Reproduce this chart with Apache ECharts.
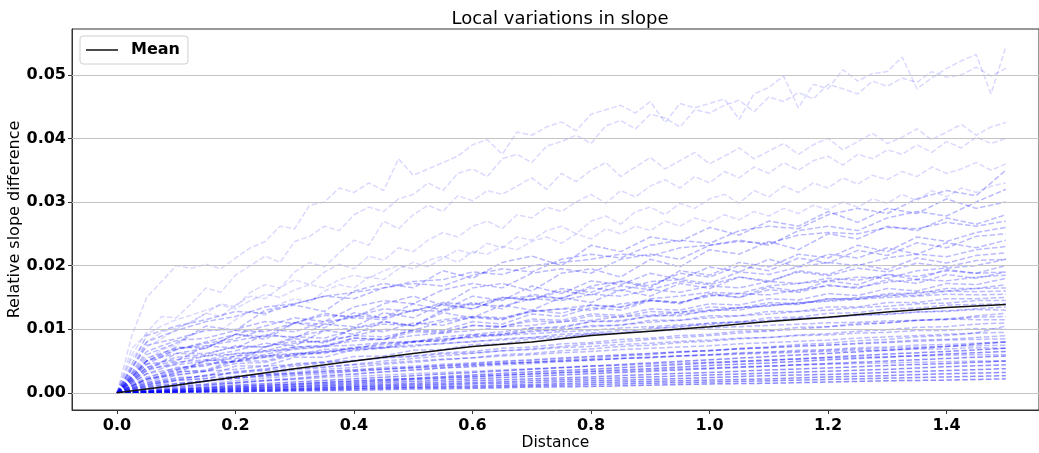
<!DOCTYPE html>
<html>
<head>
<meta charset="utf-8">
<script src="https://cdn.jsdelivr.net/npm/echarts@6/dist/echarts.min.js"></script>
<style>
  html, body { margin: 0; padding: 0; background: #fff; }
  #chart { width: 1039px; height: 453px; }
</style>
</head>
<body>
<div id="chart"></div>
<script>
// x grids the curves were sampled on
const X_FINE = [0, 0.025, 0.05, 0.075, 0.1, 0.125, 0.15, 0.175, 0.2, 0.225, 0.25, 0.275, 0.3, 0.325, 0.35, 0.375, 0.4, 0.425, 0.45, 0.475,
  0.5, 0.525, 0.55, 0.575, 0.6, 0.625, 0.65, 0.675, 0.7, 0.725, 0.75, 0.775, 0.8, 0.825, 0.85, 0.875, 0.9, 0.925, 0.95, 0.975,
  1.0, 1.025, 1.05, 1.075, 1.1, 1.125, 1.15, 1.175, 1.2, 1.225, 1.25, 1.275, 1.3, 1.325, 1.35, 1.375, 1.4, 1.425, 1.45, 1.475, 1.5];
const X_MID = [0, 0.05, 0.1, 0.15, 0.2, 0.25, 0.3, 0.35, 0.4, 0.45, 0.5, 0.55, 0.6, 0.65, 0.7, 0.75, 0.8, 0.85, 0.9, 0.95,
  1.0, 1.05, 1.1, 1.15, 1.2, 1.25, 1.3, 1.35, 1.4, 1.45, 1.5];
const X_LOW = [0, 0.1, 0.2, 0.3, 0.4, 0.5, 0.6, 0.7, 0.8, 0.9, 1.0, 1.1, 1.2, 1.3, 1.4, 1.5];

const X_TICKS = [0, 0.2, 0.4, 0.6, 0.8, 1.0, 1.2, 1.4];
const Y_TICKS = [0, 0.01, 0.02, 0.03, 0.04, 0.05];

// upper, sparse curves (on X_FINE)
const topCurves = [
  [0, 0.0090, 0.0150, 0.0175, 0.0200, 0.0196, 0.0202, 0.0195, 0.0212, 0.0228, 0.0238, 0.0262, 0.0258, 0.0295, 0.0300, 0.0322, 0.0315, 0.0330, 0.0318, 0.0368,
   0.0342, 0.0352, 0.0362, 0.0372, 0.0390, 0.0398, 0.0375, 0.0410, 0.0405, 0.0418, 0.0426, 0.0412, 0.0438, 0.0445, 0.0452, 0.0440, 0.0458, 0.0425, 0.0455, 0.0448,
   0.0455, 0.0462, 0.0430, 0.0470, 0.0480, 0.0498, 0.0448, 0.0485, 0.0478, 0.0508, 0.0490, 0.0502, 0.0505, 0.0528, 0.0478, 0.0495, 0.0510, 0.0522, 0.0532, 0.0470, 0.0544],
  [0, 0.0060, 0.0095, 0.0120, 0.0118, 0.0140, 0.0165, 0.0158, 0.0185, 0.0200, 0.0215, 0.0205, 0.0238, 0.0246, 0.0262, 0.0255, 0.0280, 0.0292, 0.0285, 0.0305,
   0.0312, 0.0330, 0.0318, 0.0345, 0.0352, 0.0340, 0.0368, 0.0375, 0.0362, 0.0388, 0.0395, 0.0405, 0.0392, 0.0420, 0.0428, 0.0415, 0.0438, 0.0432, 0.0418, 0.0445,
   0.0440, 0.0452, 0.0460, 0.0442, 0.0465, 0.0458, 0.0472, 0.0462, 0.0485, 0.0478, 0.0470, 0.0490, 0.0482, 0.0495, 0.0488, 0.0505, 0.0496, 0.0500, 0.0512, 0.0498, 0.0510],
  [0, 0.0040, 0.0072, 0.0085, 0.0100, 0.0112, 0.0125, 0.0140, 0.0135, 0.0158, 0.0170, 0.0165, 0.0190, 0.0205, 0.0198, 0.0220, 0.0240, 0.0232, 0.0270, 0.0258,
   0.0280, 0.0295, 0.0285, 0.0310, 0.0302, 0.0318, 0.0312, 0.0325, 0.0338, 0.0320, 0.0345, 0.0332, 0.0350, 0.0362, 0.0340, 0.0355, 0.0370, 0.0352, 0.0365, 0.0378,
   0.0360, 0.0372, 0.0385, 0.0368, 0.0380, 0.0392, 0.0375, 0.0390, 0.0400, 0.0382, 0.0395, 0.0408, 0.0392, 0.0402, 0.0415, 0.0398, 0.0410, 0.0422, 0.0405, 0.0418, 0.0425],
  [0, 0.0055, 0.0080, 0.0095, 0.0102, 0.0110, 0.0125, 0.0120, 0.0138, 0.0152, 0.0148, 0.0165, 0.0178, 0.0170, 0.0190, 0.0202, 0.0195, 0.0215, 0.0208, 0.0228,
   0.0222, 0.0240, 0.0252, 0.0245, 0.0262, 0.0270, 0.0258, 0.0280, 0.0275, 0.0292, 0.0285, 0.0300, 0.0312, 0.0298, 0.0318, 0.0308, 0.0325, 0.0335, 0.0322, 0.0340,
   0.0330, 0.0348, 0.0338, 0.0355, 0.0345, 0.0362, 0.0350, 0.0365, 0.0372, 0.0358, 0.0375, 0.0368, 0.0382, 0.0375, 0.0390, 0.0378, 0.0395, 0.0385, 0.0402, 0.0392, 0.0400],
  [0, 0.0030, 0.0050, 0.0068, 0.0075, 0.0090, 0.0100, 0.0098, 0.0115, 0.0128, 0.0122, 0.0140, 0.0148, 0.0142, 0.0160, 0.0170, 0.0165, 0.0182, 0.0178, 0.0195,
   0.0205, 0.0198, 0.0212, 0.0225, 0.0218, 0.0235, 0.0228, 0.0245, 0.0240, 0.0255, 0.0262, 0.0250, 0.0270, 0.0278, 0.0265, 0.0285, 0.0292, 0.0280, 0.0298, 0.0290,
   0.0305, 0.0312, 0.0298, 0.0318, 0.0308, 0.0325, 0.0315, 0.0330, 0.0322, 0.0338, 0.0328, 0.0342, 0.0335, 0.0348, 0.0340, 0.0355, 0.0345, 0.0352, 0.0362, 0.0350, 0.0360],
  [0, 0.0070, 0.0092, 0.0105, 0.0115, 0.0122, 0.0130, 0.0138, 0.0132, 0.0145, 0.0155, 0.0150, 0.0162, 0.0170, 0.0165, 0.0178, 0.0185, 0.0180, 0.0192, 0.0200,
   0.0195, 0.0208, 0.0215, 0.0205, 0.0222, 0.0218, 0.0230, 0.0225, 0.0238, 0.0245, 0.0235, 0.0250, 0.0242, 0.0258, 0.0250, 0.0262, 0.0255, 0.0270, 0.0262, 0.0275,
   0.0268, 0.0280, 0.0272, 0.0285, 0.0278, 0.0290, 0.0282, 0.0295, 0.0288, 0.0300, 0.0292, 0.0305, 0.0298, 0.0312, 0.0302, 0.0318, 0.0308, 0.0322, 0.0315, 0.0325, 0.0330]
];

// the dense middle band (on X_MID)
const midCurves = [
  [0, 0.0060, 0.0078, 0.0105, 0.0098, 0.0130, 0.0138, 0.0128, 0.0160, 0.0172, 0.0165, 0.0192, 0.0180, 0.0205, 0.0215, 0.0200, 0.0232, 0.0222, 0.0245, 0.0238, 0.0260, 0.0248, 0.0270, 0.0262, 0.0285, 0.0268, 0.0290, 0.0282, 0.0305, 0.0290, 0.0300],
  [0, 0.0035, 0.0062, 0.0070, 0.0092, 0.0084, 0.0110, 0.0125, 0.0118, 0.0140, 0.0152, 0.0138, 0.0165, 0.0172, 0.0160, 0.0188, 0.0195, 0.0182, 0.0210, 0.0198, 0.0225, 0.0218, 0.0238, 0.0225, 0.0250, 0.0242, 0.0262, 0.0255, 0.0275, 0.0265, 0.0280],
  [0, 0.0022, 0.0030, 0.0052, 0.0048, 0.0072, 0.0085, 0.0078, 0.0102, 0.0112, 0.0105, 0.0130, 0.0142, 0.0132, 0.0155, 0.0148, 0.0168, 0.0175, 0.0165, 0.0192, 0.0185, 0.0205, 0.0198, 0.0218, 0.0212, 0.0232, 0.0222, 0.0245, 0.0238, 0.0252, 0.0260],
  [0, 0.0050, 0.0072, 0.0070, 0.0092, 0.0088, 0.0110, 0.0102, 0.0126, 0.0118, 0.0140, 0.0130, 0.0152, 0.0145, 0.0168, 0.0156, 0.0176, 0.0170, 0.0188, 0.0178, 0.0198, 0.0190, 0.0210, 0.0198, 0.0218, 0.0212, 0.0228, 0.0218, 0.0236, 0.0228, 0.0240],
  [0, 0.0040, 0.0050, 0.0074, 0.0070, 0.0092, 0.0086, 0.0108, 0.0104, 0.0126, 0.0118, 0.0140, 0.0132, 0.0150, 0.0146, 0.0164, 0.0158, 0.0176, 0.0168, 0.0188, 0.0182, 0.0200, 0.0192, 0.0212, 0.0204, 0.0224, 0.0216, 0.0236, 0.0228, 0.0246, 0.0250],
  [0, 0.0030, 0.0046, 0.0058, 0.0066, 0.0078, 0.0074, 0.0098, 0.0092, 0.0112, 0.0106, 0.0126, 0.0118, 0.0138, 0.0130, 0.0150, 0.0142, 0.0162, 0.0152, 0.0172, 0.0164, 0.0182, 0.0174, 0.0192, 0.0186, 0.0202, 0.0194, 0.0212, 0.0204, 0.0216, 0.0220],
  [0, 0.0075, 0.0085, 0.0098, 0.0100, 0.0112, 0.0110, 0.0122, 0.0120, 0.0132, 0.0128, 0.0142, 0.0138, 0.0150, 0.0146, 0.0160, 0.0154, 0.0168, 0.0162, 0.0175, 0.0170, 0.0182, 0.0176, 0.0190, 0.0184, 0.0196, 0.0190, 0.0204, 0.0198, 0.0208, 0.0210],
  [0, 0.0015, 0.0032, 0.0036, 0.0052, 0.0056, 0.0070, 0.0072, 0.0086, 0.0084, 0.0100, 0.0098, 0.0112, 0.0108, 0.0124, 0.0120, 0.0134, 0.0130, 0.0145, 0.0140, 0.0156, 0.0150, 0.0166, 0.0160, 0.0176, 0.0170, 0.0186, 0.0178, 0.0194, 0.0188, 0.0200],
  [0, 0.0040, 0.0056, 0.0060, 0.0074, 0.0072, 0.0088, 0.0086, 0.0100, 0.0096, 0.0110, 0.0106, 0.0120, 0.0116, 0.0130, 0.0125, 0.0138, 0.0134, 0.0146, 0.0142, 0.0154, 0.0150, 0.0162, 0.0158, 0.0170, 0.0164, 0.0178, 0.0172, 0.0186, 0.0180, 0.0190],
  [0, 0.0065, 0.0082, 0.0086, 0.0098, 0.0096, 0.0110, 0.0108, 0.0121, 0.0118, 0.0130, 0.0128, 0.0140, 0.0136, 0.0148, 0.0145, 0.0155, 0.0152, 0.0162, 0.0158, 0.0168, 0.0165, 0.0175, 0.0172, 0.0180, 0.0177, 0.0186, 0.0183, 0.0192, 0.0188, 0.0190],
  [0, 0.0022, 0.0040, 0.0042, 0.0058, 0.0060, 0.0072, 0.0074, 0.0086, 0.0084, 0.0096, 0.0094, 0.0106, 0.0104, 0.0116, 0.0114, 0.0124, 0.0122, 0.0132, 0.0130, 0.0140, 0.0138, 0.0148, 0.0146, 0.0156, 0.0153, 0.0164, 0.0160, 0.0172, 0.0170, 0.0180],
  [0, 0.0010, 0.0024, 0.0026, 0.0042, 0.0042, 0.0056, 0.0056, 0.0068, 0.0070, 0.0080, 0.0082, 0.0091, 0.0092, 0.0102, 0.0102, 0.0112, 0.0112, 0.0121, 0.0121, 0.0130, 0.0130, 0.0139, 0.0139, 0.0148, 0.0148, 0.0156, 0.0156, 0.0164, 0.0164, 0.0170],
  [0, 0.0050, 0.0062, 0.0062, 0.0072, 0.0072, 0.0081, 0.0080, 0.0090, 0.0088, 0.0098, 0.0096, 0.0106, 0.0104, 0.0113, 0.0111, 0.0121, 0.0119, 0.0128, 0.0126, 0.0135, 0.0133, 0.0142, 0.0140, 0.0148, 0.0147, 0.0154, 0.0153, 0.0160, 0.0159, 0.0160],
  [0, 0.0018, 0.0034, 0.0034, 0.0050, 0.0050, 0.0062, 0.0062, 0.0072, 0.0072, 0.0081, 0.0081, 0.0090, 0.0090, 0.0098, 0.0098, 0.0106, 0.0106, 0.0114, 0.0114, 0.0121, 0.0121, 0.0128, 0.0128, 0.0135, 0.0135, 0.0142, 0.0142, 0.0148, 0.0148, 0.0150],
  [0, 0.0008, 0.0020, 0.0022, 0.0034, 0.0036, 0.0046, 0.0048, 0.0057, 0.0058, 0.0067, 0.0068, 0.0076, 0.0077, 0.0085, 0.0086, 0.0093, 0.0094, 0.0102, 0.0103, 0.0110, 0.0111, 0.0118, 0.0119, 0.0125, 0.0126, 0.0132, 0.0133, 0.0138, 0.0139, 0.0140],
  [0, 0.0045, 0.0052, 0.0058, 0.0061, 0.0066, 0.0068, 0.0073, 0.0075, 0.0079, 0.0081, 0.0085, 0.0087, 0.0091, 0.0093, 0.0096, 0.0098, 0.0102, 0.0104, 0.0107, 0.0109, 0.0112, 0.0114, 0.0117, 0.0119, 0.0122, 0.0124, 0.0127, 0.0129, 0.0132, 0.0135],
  [0, 0.0030, 0.0038, 0.0046, 0.0049, 0.0056, 0.0058, 0.0064, 0.0066, 0.0071, 0.0073, 0.0078, 0.0080, 0.0085, 0.0087, 0.0092, 0.0094, 0.0098, 0.0100, 0.0105, 0.0107, 0.0111, 0.0112, 0.0117, 0.0118, 0.0122, 0.0123, 0.0127, 0.0128, 0.0131, 0.0130],
  [0, 0.0012, 0.0020, 0.0028, 0.0032, 0.0038, 0.0042, 0.0047, 0.0050, 0.0055, 0.0058, 0.0063, 0.0065, 0.0070, 0.0072, 0.0077, 0.0079, 0.0084, 0.0086, 0.0090, 0.0092, 0.0097, 0.0098, 0.0103, 0.0104, 0.0109, 0.0110, 0.0114, 0.0115, 0.0119, 0.0120],
  [0, 0.0006, 0.0012, 0.0018, 0.0023, 0.0028, 0.0032, 0.0037, 0.0040, 0.0045, 0.0048, 0.0052, 0.0055, 0.0060, 0.0062, 0.0066, 0.0069, 0.0073, 0.0075, 0.0079, 0.0081, 0.0085, 0.0087, 0.0091, 0.0093, 0.0097, 0.0099, 0.0103, 0.0104, 0.0108, 0.0110],
  [0, 0.0003, 0.0007, 0.0011, 0.0015, 0.0019, 0.0022, 0.0026, 0.0029, 0.0033, 0.0036, 0.0039, 0.0042, 0.0046, 0.0048, 0.0052, 0.0054, 0.0058, 0.0060, 0.0064, 0.0066, 0.0070, 0.0072, 0.0076, 0.0078, 0.0082, 0.0084, 0.0088, 0.0090, 0.0094, 0.0105],
  [0, 0.0022, 0.0028, 0.0034, 0.0037, 0.0042, 0.0044, 0.0049, 0.0051, 0.0055, 0.0057, 0.0061, 0.0063, 0.0066, 0.0068, 0.0071, 0.0073, 0.0076, 0.0078, 0.0081, 0.0083, 0.0086, 0.0087, 0.0090, 0.0091, 0.0094, 0.0095, 0.0098, 0.0098, 0.0101, 0.0100],
  [0, 0.0008, 0.0014, 0.0019, 0.0023, 0.0027, 0.0030, 0.0034, 0.0036, 0.0040, 0.0042, 0.0045, 0.0047, 0.0050, 0.0052, 0.0055, 0.0057, 0.0060, 0.0062, 0.0065, 0.0066, 0.0069, 0.0071, 0.0074, 0.0075, 0.0078, 0.0080, 0.0083, 0.0084, 0.0087, 0.0090],
  [0, 0.0004, 0.0008, 0.0012, 0.0016, 0.0020, 0.0023, 0.0027, 0.0030, 0.0033, 0.0036, 0.0039, 0.0041, 0.0044, 0.0046, 0.0049, 0.0051, 0.0054, 0.0056, 0.0058, 0.0060, 0.0063, 0.0064, 0.0067, 0.0068, 0.0071, 0.0072, 0.0075, 0.0076, 0.0078, 0.0080],
  [0, 0.0014, 0.0019, 0.0023, 0.0026, 0.0029, 0.0031, 0.0034, 0.0036, 0.0038, 0.0040, 0.0043, 0.0044, 0.0047, 0.0048, 0.0050, 0.0052, 0.0054, 0.0055, 0.0058, 0.0059, 0.0061, 0.0062, 0.0064, 0.0065, 0.0067, 0.0067, 0.0069, 0.0069, 0.0071, 0.0070],
  [0, 0.0080, 0.0098, 0.0112, 0.0120, 0.0135, 0.0140, 0.0152, 0.0158, 0.0165, 0.0175, 0.0178, 0.0190, 0.0186, 0.0200, 0.0205, 0.0210, 0.0218, 0.0215, 0.0228, 0.0232, 0.0238, 0.0235, 0.0248, 0.0252, 0.0250, 0.0260, 0.0258, 0.0268, 0.0262, 0.0270],
  [0, 0.0045, 0.0068, 0.0078, 0.0085, 0.0100, 0.0096, 0.0112, 0.0118, 0.0115, 0.0130, 0.0138, 0.0132, 0.0148, 0.0152, 0.0148, 0.0165, 0.0160, 0.0175, 0.0178, 0.0172, 0.0190, 0.0186, 0.0198, 0.0205, 0.0200, 0.0212, 0.0218, 0.0214, 0.0225, 0.0230],
  [0, 0.0020, 0.0036, 0.0050, 0.0058, 0.0066, 0.0078, 0.0082, 0.0090, 0.0100, 0.0098, 0.0112, 0.0118, 0.0115, 0.0128, 0.0132, 0.0138, 0.0135, 0.0148, 0.0152, 0.0158, 0.0156, 0.0168, 0.0172, 0.0176, 0.0182, 0.0180, 0.0192, 0.0196, 0.0200, 0.0210],
  [0, 0.0055, 0.0070, 0.0074, 0.0082, 0.0090, 0.0088, 0.0098, 0.0102, 0.0108, 0.0106, 0.0115, 0.0120, 0.0118, 0.0128, 0.0132, 0.0130, 0.0140, 0.0145, 0.0142, 0.0152, 0.0156, 0.0154, 0.0162, 0.0168, 0.0166, 0.0174, 0.0178, 0.0176, 0.0182, 0.0185],
  [0, 0.0012, 0.0028, 0.0034, 0.0046, 0.0048, 0.0060, 0.0064, 0.0070, 0.0078, 0.0080, 0.0088, 0.0092, 0.0096, 0.0102, 0.0104, 0.0112, 0.0114, 0.0120, 0.0124, 0.0128, 0.0134, 0.0136, 0.0142, 0.0145, 0.0150, 0.0152, 0.0158, 0.0160, 0.0164, 0.0165],
  [0, 0.0035, 0.0048, 0.0052, 0.0062, 0.0064, 0.0072, 0.0074, 0.0082, 0.0084, 0.0090, 0.0094, 0.0098, 0.0104, 0.0106, 0.0112, 0.0114, 0.0120, 0.0122, 0.0127, 0.0130, 0.0134, 0.0137, 0.0141, 0.0144, 0.0147, 0.0150, 0.0152, 0.0155, 0.0154, 0.0155],
  [0, 0.0025, 0.0036, 0.0044, 0.0050, 0.0058, 0.0060, 0.0068, 0.0070, 0.0076, 0.0080, 0.0084, 0.0088, 0.0093, 0.0096, 0.0100, 0.0104, 0.0107, 0.0111, 0.0114, 0.0118, 0.0121, 0.0124, 0.0128, 0.0130, 0.0134, 0.0136, 0.0140, 0.0141, 0.0145, 0.0145],
  [0, 0.0005, 0.0014, 0.0018, 0.0026, 0.0030, 0.0036, 0.0040, 0.0045, 0.0050, 0.0054, 0.0058, 0.0062, 0.0066, 0.0069, 0.0073, 0.0077, 0.0080, 0.0084, 0.0087, 0.0090, 0.0094, 0.0097, 0.0100, 0.0104, 0.0107, 0.0110, 0.0114, 0.0116, 0.0121, 0.0125],
  [0, 0.0038, 0.0044, 0.0050, 0.0054, 0.0058, 0.0062, 0.0065, 0.0069, 0.0071, 0.0075, 0.0077, 0.0081, 0.0083, 0.0087, 0.0089, 0.0092, 0.0094, 0.0097, 0.0099, 0.0102, 0.0104, 0.0106, 0.0108, 0.0110, 0.0111, 0.0113, 0.0114, 0.0116, 0.0115, 0.0115],
  [0, 0.0016, 0.0022, 0.0027, 0.0031, 0.0035, 0.0038, 0.0041, 0.0044, 0.0047, 0.0050, 0.0053, 0.0055, 0.0058, 0.0060, 0.0063, 0.0065, 0.0068, 0.0070, 0.0072, 0.0074, 0.0077, 0.0079, 0.0081, 0.0083, 0.0086, 0.0088, 0.0090, 0.0092, 0.0094, 0.0095],
  [0, 0.0004, 0.0010, 0.0014, 0.0019, 0.0023, 0.0027, 0.0030, 0.0034, 0.0037, 0.0040, 0.0043, 0.0046, 0.0049, 0.0051, 0.0054, 0.0057, 0.0059, 0.0062, 0.0064, 0.0067, 0.0069, 0.0071, 0.0073, 0.0075, 0.0077, 0.0079, 0.0081, 0.0083, 0.0084, 0.0085],
  [0, 0.0010, 0.0015, 0.0019, 0.0023, 0.0026, 0.0029, 0.0032, 0.0034, 0.0037, 0.0039, 0.0041, 0.0044, 0.0046, 0.0048, 0.0050, 0.0052, 0.0054, 0.0056, 0.0058, 0.0060, 0.0062, 0.0064, 0.0065, 0.0067, 0.0069, 0.0070, 0.0072, 0.0073, 0.0074, 0.0075],
  [0, 0.0006, 0.0010, 0.0013, 0.0016, 0.0019, 0.0021, 0.0024, 0.0026, 0.0028, 0.0030, 0.0032, 0.0034, 0.0036, 0.0038, 0.0040, 0.0042, 0.0043, 0.0045, 0.0047, 0.0048, 0.0050, 0.0052, 0.0053, 0.0055, 0.0056, 0.0057, 0.0058, 0.0059, 0.0060, 0.0060],
  [0, 0.0002, 0.0005, 0.0008, 0.0010, 0.0012, 0.0014, 0.0016, 0.0018, 0.0020, 0.0022, 0.0024, 0.0026, 0.0028, 0.0029, 0.0031, 0.0033, 0.0034, 0.0036, 0.0038, 0.0039, 0.0041, 0.0042, 0.0044, 0.0045, 0.0046, 0.0047, 0.0048, 0.0049, 0.0050, 0.0050],
  [0, 0.0050, 0.0068, 0.0080, 0.0092, 0.0105, 0.0118, 0.0112, 0.0135, 0.0145, 0.0140, 0.0162, 0.0172, 0.0165, 0.0188, 0.0195, 0.0188, 0.0210, 0.0218, 0.0210, 0.0232, 0.0240, 0.0232, 0.0255, 0.0262, 0.0255, 0.0275, 0.0285, 0.0278, 0.0300, 0.0320],
  [0, 0.0090, 0.0105, 0.0115, 0.0128, 0.0125, 0.0140, 0.0152, 0.0148, 0.0165, 0.0172, 0.0168, 0.0185, 0.0195, 0.0190, 0.0210, 0.0218, 0.0212, 0.0232, 0.0240, 0.0235, 0.0255, 0.0262, 0.0258, 0.0280, 0.0290, 0.0282, 0.0305, 0.0318, 0.0310, 0.0350]
];

// the near-zero bundle (on X_LOW)
const lowCurves = [
  [0, 0.0006, 0.0012, 0.0017, 0.0022, 0.0027, 0.0032, 0.0037, 0.0042, 0.0047, 0.0052, 0.0057, 0.0062, 0.0067, 0.0073, 0.0080],
  [0, 0.0005, 0.0010, 0.0014, 0.0019, 0.0023, 0.0028, 0.0033, 0.0037, 0.0042, 0.0047, 0.0051, 0.0056, 0.0061, 0.0065, 0.0070],
  [0, 0.0004, 0.0008, 0.0012, 0.0016, 0.0021, 0.0025, 0.0030, 0.0034, 0.0038, 0.0043, 0.0047, 0.0052, 0.0056, 0.0061, 0.0065],
  [0, 0.0003, 0.0007, 0.0010, 0.0014, 0.0018, 0.0022, 0.0026, 0.0030, 0.0034, 0.0038, 0.0042, 0.0046, 0.0050, 0.0054, 0.0058],
  [0, 0.0003, 0.0006, 0.0009, 0.0012, 0.0015, 0.0019, 0.0022, 0.0025, 0.0029, 0.0032, 0.0036, 0.0039, 0.0043, 0.0046, 0.0050],
  [0, 0.0002, 0.0005, 0.0007, 0.0010, 0.0013, 0.0016, 0.0019, 0.0022, 0.0025, 0.0028, 0.0031, 0.0034, 0.0037, 0.0041, 0.0044],
  [0, 0.0002, 0.0004, 0.0006, 0.0009, 0.0011, 0.0014, 0.0016, 0.0019, 0.0021, 0.0024, 0.0027, 0.0029, 0.0032, 0.0035, 0.0038],
  [0, 0.0001, 0.0003, 0.0005, 0.0007, 0.0009, 0.0011, 0.0013, 0.0016, 0.0018, 0.0020, 0.0022, 0.0025, 0.0027, 0.0030, 0.0032],
  [0, 0.0001, 0.0002, 0.0004, 0.0006, 0.0008, 0.0009, 0.0011, 0.0013, 0.0015, 0.0017, 0.0019, 0.0021, 0.0023, 0.0025, 0.0027],
  [0, 0.0001, 0.0002, 0.0003, 0.0004, 0.0006, 0.0007, 0.0009, 0.0010, 0.0012, 0.0014, 0.0015, 0.0017, 0.0019, 0.0020, 0.0022]
];

const meanCurve = [0, 0.0012, 0.0025, 0.0038, 0.0050, 0.0062, 0.0073, 0.0080, 0.0090, 0.0097, 0.0104, 0.0112, 0.0119, 0.0127, 0.0134, 0.0139];

const FONT = 'DejaVu Sans';

function pairs(xs, ys) {
  return ys.map((y, i) => [xs[i], y]);
}

function runLine(xs, ys, alpha) {
  return {
    type: 'line',
    data: pairs(xs, ys),
    showSymbol: false,
    symbol: 'none',
    silent: true,
    z: 2,
    lineStyle: { color: 'rgba(0,0,255,' + alpha + ')', width: 1.5, type: [5.5, 2.4] }
  };
}

let series = [];
// horizontal grid lines
series.push({
  type: 'line',
  data: [],
  silent: true,
  z: 1,
  markLine: {
    silent: true,
    symbol: 'none',
    label: { show: false },
    lineStyle: { color: '#c4c4c4', type: 'solid', width: 1 },
    data: Y_TICKS.map(v => ({ yAxis: v }))
  }
});
topCurves.forEach(c => series.push(runLine(X_FINE, c, 0.15)));
midCurves.forEach(c => series.push(runLine(X_MID, c, 0.27)));
lowCurves.forEach(c => series.push(runLine(X_LOW, c, 0.45)));
series.push({
  name: 'Mean',
  type: 'line',
  data: pairs(X_LOW, meanCurve),
  showSymbol: false,
  symbol: 'none',
  z: 5,
  lineStyle: { color: '#111', width: 1.5 },
  itemStyle: { color: '#111' }
});

const option = {
  animation: false,
  backgroundColor: '#fff',
  title: {
    text: 'Local variations in slope',
    left: 555,
    textAlign: 'center',
    top: 5,
    textStyle: { fontFamily: FONT, fontSize: 18, fontWeight: 'normal', color: '#000' }
  },
  legend: {
    data: ['Mean'],
    left: 80,
    top: 36,
    padding: [6, 8, 6, 6],
    icon: 'path://M0,0H32V1.5H0Z',
    itemWidth: 32,
    itemHeight: 1.5,
    borderColor: '#d0d0d0',
    borderWidth: 1,
    borderRadius: 3,
    backgroundColor: '#fff',
    textStyle: { fontFamily: FONT, fontSize: 16, fontWeight: 'bold', color: '#000', padding: [0, 0, 0, 8] }
  },
  grid: {
    left: 72,
    right: 0,
    top: 29,
    bottom: 43,
    outerBoundsMode: 'none',
    show: true,
    borderColor: '#333',
    borderWidth: 1
  },
  xAxis: {
    type: 'value',
    min: -0.076,
    max: 1.556,
    name: 'Distance',
    nameLocation: 'middle',
    nameGap: 25,
    nameMoveOverlap: false,
    nameTextStyle: { fontFamily: FONT, fontSize: 15.5, color: '#000', verticalAlign: 'top' },
    axisLine: { show: true, onZero: false, lineStyle: { color: '#333' } },
    axisTick: { show: true, length: 4, customValues: X_TICKS, lineStyle: { color: '#333' } },
    axisLabel: {
      customValues: X_TICKS,
      formatter: v => v.toFixed(1),
      fontFamily: FONT, fontSize: 16, fontWeight: 'bold', color: '#000', margin: 8
    },
    splitLine: { show: false }
  },
  yAxis: {
    type: 'value',
    min: -0.0027,
    max: 0.0572,
    name: 'Relative slope difference',
    nameLocation: 'middle',
    nameGap: 49,
    nameMoveOverlap: false,
    nameTextStyle: { fontFamily: FONT, fontSize: 16, color: '#000' },
    axisLine: { show: true, onZero: false, lineStyle: { color: '#333' } },
    axisTick: { show: true, length: 4, customValues: Y_TICKS, lineStyle: { color: '#333' } },
    axisLabel: {
      customValues: Y_TICKS,
      formatter: v => v.toFixed(2),
      fontFamily: FONT, fontSize: 16, fontWeight: 'bold', color: '#000', margin: 6
    },
    splitLine: { show: false }
  },
  series: series
};

const chart = echarts.init(document.getElementById('chart'), null, { renderer: 'canvas' });
chart.setOption(option);
</script>
</body>
</html>
